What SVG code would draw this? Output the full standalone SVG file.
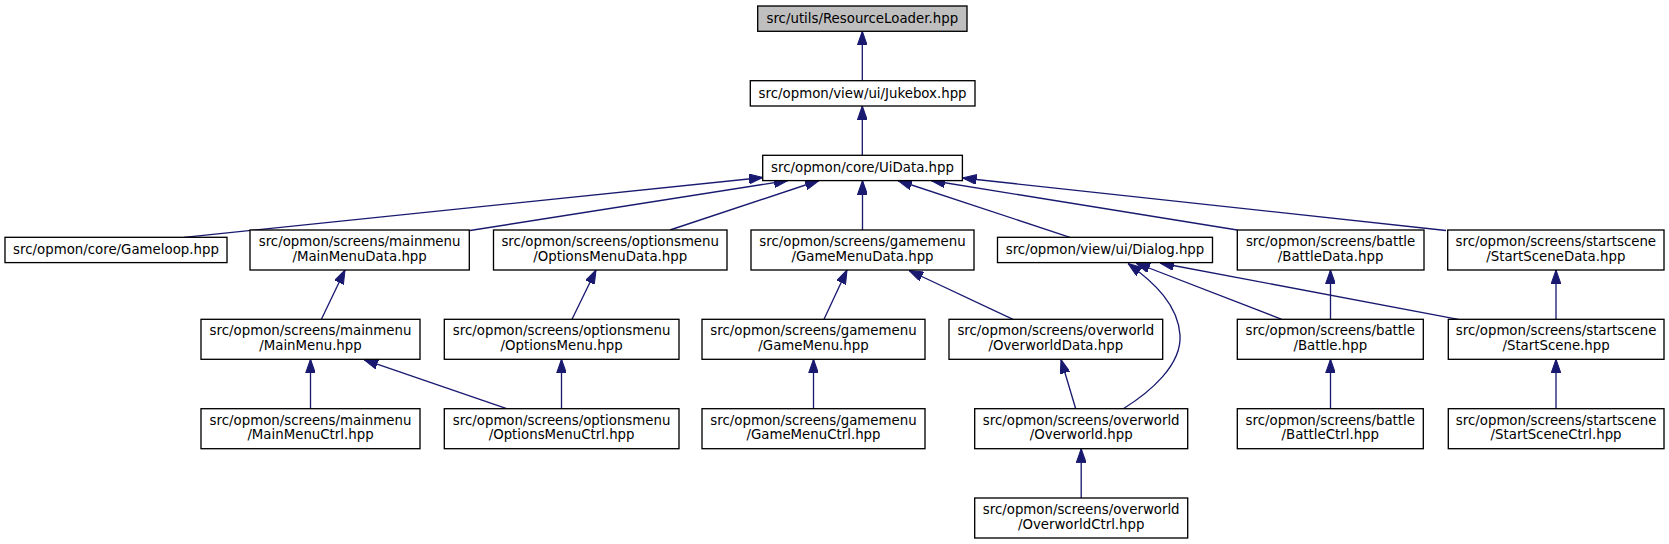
<svg xmlns="http://www.w3.org/2000/svg" width="1669" height="544" viewBox="0 0 1669 544">
<style>
.n rect{fill:#ffffff;stroke:#000000;stroke-width:1.33}
.n.root rect{fill:#bfbfbf}
.n text{font-family:"DejaVu Sans","Liberation Sans",sans-serif;font-size:13.33px;text-anchor:middle;fill:#000000}
.e path{fill:none;stroke:#191970;stroke-width:1.33;marker-end:url(#ah)}
</style>
<defs>
<marker id="ah" markerUnits="userSpaceOnUse" markerWidth="14" markerHeight="10" viewBox="0 0 13.33 9.33" refX="13.33" refY="4.67" orient="auto">
<path d="M0,0 L13.33,4.67 L0,9.33 z" fill="#191970" stroke="#191970" stroke-width="1"/>
</marker>
</defs>
<rect x="0" y="0" width="1669" height="544" fill="#ffffff"/>
<g id="edges" class="e">
<path d="M862.3,80.7 L862.3,31.3"/>
<path d="M862.3,155.3 L862.3,106"/>
<path d="M184,237.3 L763,177.5"/>
<path d="M470,230.5 L788,180.5"/>
<path d="M670,230 L819,180.5"/>
<path d="M862.5,230 L862.5,180.5"/>
<path d="M1070,237.3 L898,180.5"/>
<path d="M1237.3,230 L931,180.5"/>
<path d="M1446,230.5 L962.5,178"/>
<path d="M321.4,319.3 L345,270"/>
<path d="M572,319.3 L596,270"/>
<path d="M824,319.3 L847,270"/>
<path d="M1013,319.3 L909,270.5"/>
<path d="M310.5,408.7 L310.5,359.3"/>
<path d="M506.7,408.7 L364,359.7"/>
<path d="M561.5,408.7 L561.5,359.3"/>
<path d="M813.5,408.7 L813.5,359.3"/>
<path d="M1075.7,408.7 L1061,359.5"/>
<path d="M1081.2,498 L1081.2,448.7"/>
<path d="M1123.3,408.7 C1150,392 1182,365 1180,335 C1178,305 1155,283 1128,263.5"/>
<path d="M1281.7,319.3 L1136,263"/>
<path d="M1458.3,319.3 L1160,263"/>
<path d="M1330.5,319.3 L1330.5,270"/>
<path d="M1556,319.3 L1556,270"/>
<path d="M1330.5,408.7 L1330.5,359.3"/>
<path d="M1556,408.7 L1556,359.3"/>
</g>
<g id="node_ResourceLoader" class="n root"><rect x="757.7" y="6" width="209.3" height="25.3"/><text x="862.3" y="23">src/utils/ResourceLoader.hpp</text></g>
<g id="node_Jukebox" class="n"><rect x="750.3" y="80.7" width="224.7" height="25.3"/><text x="862.6" y="97.7">src/opmon/view/ui/Jukebox.hpp</text></g>
<g id="node_UiData" class="n"><rect x="762.7" y="155.3" width="199.7" height="25.3"/><text x="862.5" y="172.3">src/opmon/core/UiData.hpp</text></g>
<g id="node_Gameloop" class="n"><rect x="5" y="237.3" width="222" height="25.3"/><text x="116" y="254.3">src/opmon/core/Gameloop.hpp</text></g>
<g id="node_MainMenuData" class="n"><rect x="250" y="230" width="219.3" height="40"/><text x="359.6" y="246">src/opmon/screens/mainmenu</text><text x="359.6" y="260.7">/MainMenuData.hpp</text></g>
<g id="node_OptionsMenuData" class="n"><rect x="493.5" y="230" width="233.5" height="40"/><text x="610.2" y="246">src/opmon/screens/optionsmenu</text><text x="610.2" y="260.7">/OptionsMenuData.hpp</text></g>
<g id="node_GameMenuData" class="n"><rect x="751" y="230" width="223" height="40"/><text x="862.5" y="246">src/opmon/screens/gamemenu</text><text x="862.5" y="260.7">/GameMenuData.hpp</text></g>
<g id="node_Dialog" class="n"><rect x="997.5" y="237.3" width="215" height="25.3"/><text x="1105" y="254.3">src/opmon/view/ui/Dialog.hpp</text></g>
<g id="node_BattleData" class="n"><rect x="1237.3" y="230" width="186.7" height="40"/><text x="1330.6" y="246">src/opmon/screens/battle</text><text x="1330.6" y="260.7">/BattleData.hpp</text></g>
<g id="node_StartSceneData" class="n"><rect x="1447.7" y="230" width="216.3" height="40"/><text x="1555.8" y="246">src/opmon/screens/startscene</text><text x="1555.8" y="260.7">/StartSceneData.hpp</text></g>
<g id="node_MainMenu" class="n"><rect x="201" y="319.3" width="219" height="40"/><text x="310.5" y="335.3">src/opmon/screens/mainmenu</text><text x="310.5" y="350">/MainMenu.hpp</text></g>
<g id="node_OptionsMenu" class="n"><rect x="444.3" y="319.3" width="234.7" height="40"/><text x="561.6" y="335.3">src/opmon/screens/optionsmenu</text><text x="561.6" y="350">/OptionsMenu.hpp</text></g>
<g id="node_GameMenu" class="n"><rect x="702" y="319.3" width="223" height="40"/><text x="813.5" y="335.3">src/opmon/screens/gamemenu</text><text x="813.5" y="350">/GameMenu.hpp</text></g>
<g id="node_OverworldData" class="n"><rect x="949" y="319.3" width="213.7" height="40"/><text x="1055.8" y="335.3">src/opmon/screens/overworld</text><text x="1055.8" y="350">/OverworldData.hpp</text></g>
<g id="node_Battle" class="n"><rect x="1237.3" y="319.3" width="186" height="40"/><text x="1330.3" y="335.3">src/opmon/screens/battle</text><text x="1330.3" y="350">/Battle.hpp</text></g>
<g id="node_StartScene" class="n"><rect x="1448.3" y="319.3" width="215.7" height="40"/><text x="1556.1" y="335.3">src/opmon/screens/startscene</text><text x="1556.1" y="350">/StartScene.hpp</text></g>
<g id="node_MainMenuCtrl" class="n"><rect x="201" y="408.7" width="219" height="40"/><text x="310.5" y="424.7">src/opmon/screens/mainmenu</text><text x="310.5" y="439.4">/MainMenuCtrl.hpp</text></g>
<g id="node_OptionsMenuCtrl" class="n"><rect x="444.3" y="408.7" width="234.7" height="40"/><text x="561.6" y="424.7">src/opmon/screens/optionsmenu</text><text x="561.6" y="439.4">/OptionsMenuCtrl.hpp</text></g>
<g id="node_GameMenuCtrl" class="n"><rect x="702" y="408.7" width="223" height="40"/><text x="813.5" y="424.7">src/opmon/screens/gamemenu</text><text x="813.5" y="439.4">/GameMenuCtrl.hpp</text></g>
<g id="node_Overworld" class="n"><rect x="974.7" y="408.7" width="213" height="40"/><text x="1081.2" y="424.7">src/opmon/screens/overworld</text><text x="1081.2" y="439.4">/Overworld.hpp</text></g>
<g id="node_BattleCtrl" class="n"><rect x="1237.3" y="408.7" width="186" height="40"/><text x="1330.3" y="424.7">src/opmon/screens/battle</text><text x="1330.3" y="439.4">/BattleCtrl.hpp</text></g>
<g id="node_StartSceneCtrl" class="n"><rect x="1448.3" y="408.7" width="215.7" height="40"/><text x="1556.1" y="424.7">src/opmon/screens/startscene</text><text x="1556.1" y="439.4">/StartSceneCtrl.hpp</text></g>
<g id="node_OverworldCtrl" class="n"><rect x="974.7" y="498" width="213" height="40"/><text x="1081.2" y="514">src/opmon/screens/overworld</text><text x="1081.2" y="528.7">/OverworldCtrl.hpp</text></g>
</svg>
